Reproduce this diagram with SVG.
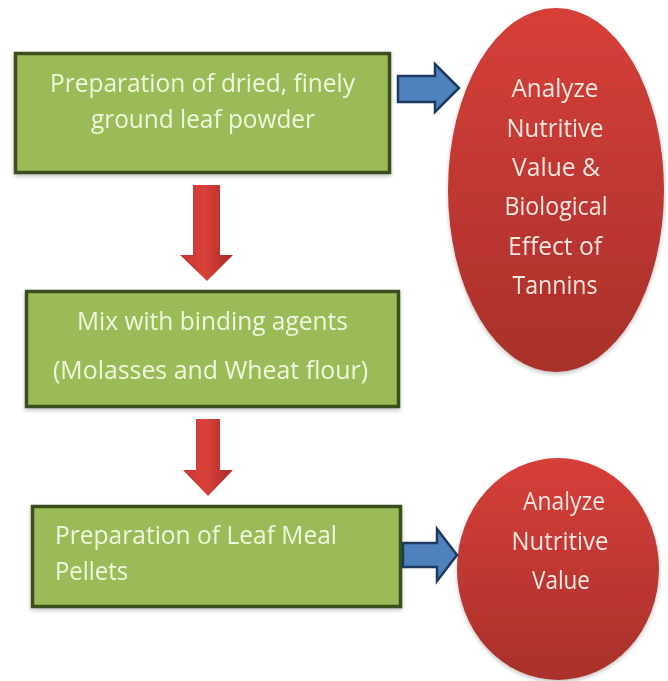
<svg xmlns="http://www.w3.org/2000/svg" width="668" height="681" viewBox="0 0 668 681">
  <defs>
    <linearGradient id="redOval" x1="0" y1="0" x2="0" y2="1">
      <stop offset="0" stop-color="#d63f39"/>
      <stop offset="1" stop-color="#a8302b"/>
    </linearGradient>
    <linearGradient id="redArrow" x1="0" y1="0" x2="1" y2="0">
      <stop offset="0" stop-color="#c73530"/>
      <stop offset="0.45" stop-color="#d9423b"/>
      <stop offset="1" stop-color="#a92925"/>
    </linearGradient>
    <filter id="shadow" x="-10%" y="-10%" width="120%" height="125%">
      <feGaussianBlur in="SourceAlpha" stdDeviation="2"/>
      <feOffset dx="0" dy="2" result="b"/>
      <feComponentTransfer><feFuncA type="linear" slope="0.25"/></feComponentTransfer>
      <feMerge><feMergeNode/><feMergeNode in="SourceGraphic"/></feMerge>
    </filter>
  </defs>
  <style>
    .box { fill: #9bbb59; stroke: #3a4f1f; stroke-width: 3.5; }
    .oval { fill: url(#redOval); }
    .btxt { font-family: "Open Sans", "Noto Sans", sans-serif; font-size: 25px; fill: #eff6dc; }
    .otxt { font-family: "Open Sans", "Noto Sans", sans-serif; font-size: 25px; fill: #f6e6e0; text-anchor: middle; }
    .blue { fill: #4f81bd; stroke: #1f3a60; stroke-width: 2.5; stroke-linejoin: miter; }
    .red { fill: url(#redArrow); }
  </style>
  <rect width="668" height="681" fill="#ffffff"/>

  <g id="box1" filter="url(#shadow)">
    <rect class="box" x="15.5" y="53.5" width="374" height="119"/>
    <text class="btxt" x="50" y="92" textLength="305" lengthAdjust="spacingAndGlyphs">Preparation of dried, finely</text>
    <text class="btxt" x="91" y="128" textLength="224" lengthAdjust="spacingAndGlyphs">ground leaf powder</text>
  </g>

  <g id="box2" filter="url(#shadow)">
    <rect class="box" x="26.5" y="291.5" width="372" height="115"/>
    <text class="btxt" x="77" y="330" textLength="271" lengthAdjust="spacingAndGlyphs">Mix with binding agents</text>
    <text class="btxt" x="53" y="379" textLength="315" lengthAdjust="spacingAndGlyphs">(Molasses and Wheat flour)</text>
  </g>

  <g id="box3" filter="url(#shadow)">
    <rect class="box" x="32.5" y="506.5" width="368" height="100"/>
    <text class="btxt" x="55" y="544" textLength="282" lengthAdjust="spacingAndGlyphs">Preparation of Leaf Meal</text>
    <text class="btxt" x="55" y="580" textLength="73" lengthAdjust="spacingAndGlyphs">Pellets</text>
  </g>

  <g id="oval1" filter="url(#shadow)">
    <ellipse class="oval" cx="556" cy="190" rx="108" ry="182"/>
    <text class="otxt" x="555" y="97" textLength="87" lengthAdjust="spacingAndGlyphs">Analyze</text>
    <text class="otxt" x="555" y="137" textLength="97" lengthAdjust="spacingAndGlyphs">Nutritive</text>
    <text class="otxt" x="556" y="176" textLength="88" lengthAdjust="spacingAndGlyphs">Value &amp;</text>
    <text class="otxt" x="556" y="215" textLength="103" lengthAdjust="spacingAndGlyphs">Biological</text>
    <text class="otxt" x="555" y="255" textLength="94" lengthAdjust="spacingAndGlyphs">Effect of</text>
    <text class="otxt" x="555" y="294" textLength="85" lengthAdjust="spacingAndGlyphs">Tannins</text>
  </g>

  <g id="oval2" filter="url(#shadow)">
    <ellipse class="oval" cx="558" cy="569" rx="101" ry="111"/>
    <text class="otxt" x="564" y="510" textLength="82" lengthAdjust="spacingAndGlyphs">Analyze</text>
    <text class="otxt" x="560" y="550" textLength="97" lengthAdjust="spacingAndGlyphs">Nutritive</text>
    <text class="otxt" x="561" y="589" textLength="58" lengthAdjust="spacingAndGlyphs">Value</text>
  </g>

  <g id="connectors">
    <polygon class="red" points="193,185 220,185 220,255 233,255 207,281 180,255 193,255"/>
    <polygon class="red" points="196,419 220,419 220,470 233,470 208,496 183,470 196,470"/>
    <polygon class="blue" points="398,76 435,76 435,64 459,88 435,112 435,102 398,102"/>
    <polygon class="blue" points="403,543 437,543 437,529 457,555 437,581 437,567 403,567"/>
  </g>
</svg>
